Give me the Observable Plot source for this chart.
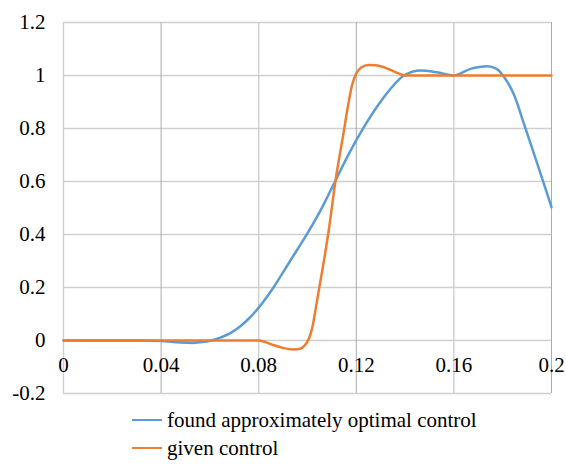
<!DOCTYPE html>
<html>
<head>
<meta charset="utf-8">
<script src="https://cdn.jsdelivr.net/npm/d3@7"></script>
<script src="https://cdn.jsdelivr.net/npm/@observablehq/plot@0.6"></script>
<style>
  body { margin: 0; background: #fff; font-family: "Times New Roman", Times, "Liberation Serif", Tinos, "Noto Serif", "DejaVu Serif", FreeSerif, serif; }
  #wrap { position: relative; width: 566px; height: 465px; }
  .leg { position: absolute; left: 132px; display: flex; align-items: center; font-size: 21px; line-height: 24px; color: #000; white-space: nowrap; }
  .leg .sw { width: 30px; height: 0; border-top: 2.5px solid; margin-right: 5px; }
</style>
</head>
<body>
<div id="wrap"></div>
<script>
const seriesNames = ["found approximately optimal control", "given control"];
const seriesColors = ["#5B9BD5", "#ED7D31"];
const xTicks = [0, 0.04, 0.08, 0.12, 0.16, 0.2];
const xTickLabels = ["0", "0.04", "0.08", "0.12", "0.16", "0.2"];
const yTicks = [-0.2, 0, 0.2, 0.4, 0.6, 0.8, 1, 1.2];
const yTickLabels = ["-0.2", "0", "0.2", "0.4", "0.6", "0.8", "1", "1.2"];

const tBlue = [0, 0.03, 0.04, 0.048, 0.053, 0.057, 0.0605, 0.0643, 0.068, 0.0725, 0.076, 0.08, 0.0862, 0.093, 0.0999, 0.1053, 0.1115, 0.117, 0.1231, 0.1313, 0.1395, 0.1463, 0.1531, 0.16, 0.1668, 0.1736, 0.1775, 0.1805, 0.1846, 0.1887, 0.1928, 0.1969, 0.2];
const blue  = [0, 0, -0.002, -0.008, -0.009, -0.006, 0, 0.011, 0.026, 0.054, 0.083, 0.124, 0.202, 0.302, 0.403, 0.49, 0.604, 0.705, 0.805, 0.918, 1.0, 1.019, 1.012, 1.0, 1.025, 1.035, 1.025, 0.995, 0.928, 0.818, 0.705, 0.591, 0.503];

const tOrange = [0, 0.08, 0.083, 0.086, 0.09, 0.094, 0.097, 0.099, 0.1, 0.101, 0.102, 0.103, 0.104, 0.1055, 0.107, 0.1087, 0.1115, 0.1149, 0.1165, 0.1183, 0.12, 0.122, 0.125, 0.128, 0.131, 0.134, 0.137, 0.14, 0.2];
const orange  = [0, 0, -0.007, -0.017, -0.028, -0.034, -0.031, -0.017, -0.003, 0.018, 0.05, 0.1, 0.155, 0.235, 0.315, 0.415, 0.604, 0.79, 0.88, 0.965, 1.008, 1.03, 1.04, 1.039, 1.032, 1.021, 1.009, 1.0, 1.0];

const dataBlue = tBlue.map((t, i) => ({t, v: blue[i]}));
const dataOrange = tOrange.map((t, i) => ({t, v: orange[i]}));
const xLab = xTicks.map((t, i) => ({t, label: xTickLabels[i]}));

const FONT = "'Times New Roman', Times, 'Liberation Serif', Tinos, 'Noto Serif', 'DejaVu Serif', FreeSerif, serif";

const chart = Plot.plot({
  width: 566,
  height: 410,
  marginLeft: 63,
  marginRight: 15,
  marginTop: 22,
  marginBottom: 17,
  style: { fontFamily: FONT, fontSize: "21px", color: "#000", background: "#fff" },
  x: { domain: [0, 0.2] },
  y: { domain: [-0.2, 1.2] },
  marks: [
    Plot.gridY(yTicks, { stroke: "#cfcfcf", strokeOpacity: 1, strokeWidth: 1.4 }),
    Plot.gridX(xTicks.filter((d, i) => i % 2 === 0), { stroke: "#cfcfcf", strokeOpacity: 1, strokeWidth: 1.4 }),
    Plot.gridX(xTicks.filter((d, i) => i % 2 === 1), { stroke: "#ababab", strokeOpacity: 1, strokeWidth: 1 }),
    Plot.axisY(yTicks, { tickSize: 0, tickPadding: 18, tickFormat: (d) => yTickLabels[yTicks.indexOf(d)], fontSize: 21, fontFamily: FONT, label: null }),
    Plot.axisX([], { label: null, tickSize: 0 }),
    Plot.text(xLab, { x: "t", y: () => 0, text: "label", dy: 25, fontSize: 21, fontFamily: FONT, textAnchor: "middle", lineAnchor: "middle" }),
    Plot.line(dataBlue, { x: "t", y: "v", stroke: seriesColors[0], strokeWidth: 2.5, curve: "monotone-x" }),
    Plot.line(dataOrange, { x: "t", y: "v", stroke: seriesColors[1], strokeWidth: 2.5, curve: "monotone-x" })
  ]
});

const wrap = document.getElementById("wrap");
wrap.appendChild(chart);
seriesNames.forEach((name, i) => {
  const row = document.createElement("div");
  row.className = "leg";
  row.style.top = (408 + i * 28) + "px";
  row.style.height = "24px";
  const sw = document.createElement("span");
  sw.className = "sw";
  sw.style.borderTopColor = seriesColors[i];
  const tx = document.createElement("span");
  tx.textContent = name;
  row.appendChild(sw);
  row.appendChild(tx);
  wrap.appendChild(row);
});
</script>
</body>
</html>
